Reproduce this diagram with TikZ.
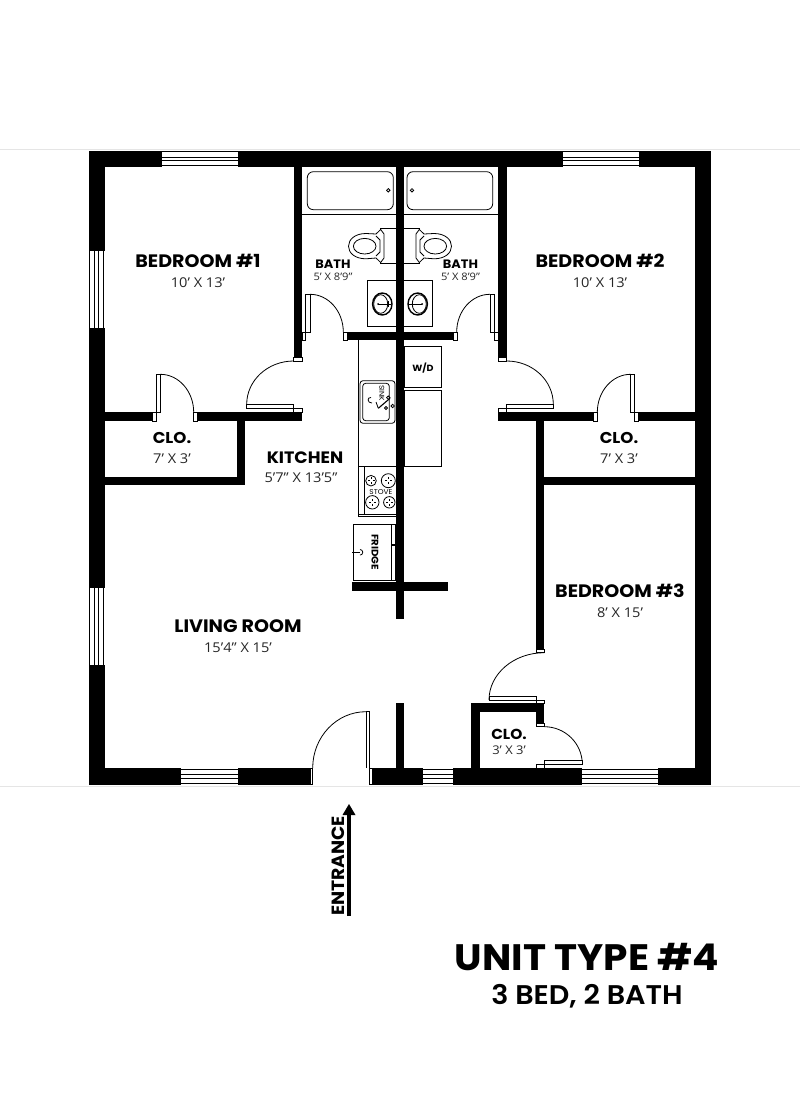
\documentclass[tikz,border=0pt]{standalone}
\usepackage{fontspec}
\setmainfont{Open Sans}[FakeStretch=1.08]
\newfontfamily\headfont{Poppins}[FakeStretch=1.06,BoldFont={Poppins Bold},BoldFeatures={FakeStretch=1.06}]
\newfontfamily\subfont{Poppins SemiBold}[FakeStretch=1.06]
\tikzset{
  wall/.style={fill=black,draw=none},
  thinline/.style={draw=black,line width=0.7pt,fill=white},
  fixture/.style={draw=black,line width=0.8pt},
  swing/.style={draw=black,line width=0.8pt},
  winline/.style={draw=black,line width=0.85pt},
  room/.style={font=\headfont\bfseries\fontsize{18}{20}\selectfont,inner sep=0pt},
  smallroom/.style={font=\headfont\bfseries\fontsize{15.7}{17}\selectfont,inner sep=0pt},
  bathroom/.style={font=\headfont\bfseries\fontsize{12.2}{14}\selectfont,inner sep=0pt},
  dim/.style={font=\fontsize{13.5}{14}\selectfont,inner sep=0pt,text=black!85},
  smalldim/.style={font=\fontsize{10.3}{12}\selectfont,inner sep=0pt,text=black!85},
  tiny/.style={font=\headfont\bfseries\fontsize{8}{9}\selectfont,inner sep=0pt},
}
\newcommand{\wl}[4]{\fill[wall] (#1,#2) rectangle (#3,#4);}
\newcommand{\hwin}[3]{\foreach \yy in {0.7,6,9.7,14.7}{\draw[winline] (#1,#3+\yy) -- (#2,#3+\yy);}}
\newcommand{\vwin}[3]{\foreach \xx in {0.7,5.7,9.3,14.7}{\draw[winline] (#3+\xx,#1) -- (#3+\xx,#2);}}
\begin{document}
\begin{tikzpicture}[x=1pt,y=-1pt]
\useasboundingbox (0,0) rectangle (800,1100);
\draw[black!10,line width=0.6pt] (0,149.5) -- (800,149.5);
\draw[black!10,line width=0.6pt] (0,786) -- (800,786);
% windows
\hwin{162.3}{237.5}{151}
\hwin{563}{638.5}{151}
\vwin{251}{327.5}{89}
\vwin{588}{664.5}{89}
\hwin{181}{237.5}{768.5}
\hwin{423}{453}{768.5}
\hwin{582}{658}{768.5}
% fixtures under walls
\draw[fixture] (302,214) -- (498,214);
\draw[fixture,rounded corners=6pt] (307.3,171.7) rectangle (393.3,209.7);
\draw[fixture,rounded corners=6pt] (407,171.7) rectangle (492.7,209.7);
\draw[fixture] (388.3,190.3) circle (1.7);
\draw[fixture] (412,190.3) circle (1.7);
\draw[fixture] (367.7,280.7) rectangle (432.7,326.3);
% toilets
\draw[fixture] (380.7,228.3) rectangle (419.3,263.3);
\foreach \m/\c in {1/0,-1/800}{
 \begin{scope}[shift={(\c,0)},xscale=\m]
  \draw[fixture,fill=white] (380.7,229.5) -- (384,234) -- (384,258) -- (380.7,262.5) -- (376,258 ) -- (366,258.8) .. controls (355,258.8) and (348.5,253) .. (348.5,246.2) .. controls (348.5,239.5) and (355,233.5) .. (366,233.5) -- (376,234) -- cycle;
  \draw[fixture] (364.7,246.2) ellipse (11.3 and 7.8);
  \draw[fixture] (376,236) -- (380,240) -- (380,252) -- (376,256);
  \draw[fixture,line width=1.4pt] (382.3,304) ellipse (9.7 and 11);
  \draw[fixture] (380.7,304) ellipse (7 and 9.3);
  \draw[fixture] (378,304) -- (391,304) (388,301) -- (388,307);
  \fill (378,304) circle (1);
 \end{scope}
}
% kitchen
\draw[fixture] (358.3,340) -- (358.3,516.7) -- (396,516.7);
\draw[fixture] (358.3,514.7) -- (396,514.7);
\draw[fixture] (358.3,466) -- (396,466);
\draw[fixture] (364.3,466) -- (364.3,514.7);
\draw[fixture,rounded corners=3pt] (360,380.7) rectangle (395,423.3);
\draw[fixture,rounded corners=3pt] (362.7,383.3) rectangle (389.3,420.7);
\draw[fixture] (372,403) .. controls (367,403) and (367,397) .. (371,397.5);
\draw[fixture,line width=1.1pt] (378.3,408.3) -- (390,398.3);
\draw[fixture] (388.3,397.7) circle (1.7) (392.7,406) circle (1.7) (386,408) circle (1.5);
\draw[fixture] (378.3,408.3) -- (376,402);
\draw[fixture] (404.3,346) rectangle (441.7,387.3);
\draw[fixture] (404.3,390) rectangle (441.7,466);
\foreach \p/\r in {{371,480.7}/5.3,{388.3,480.7}/7,{372.3,502.3}/6.7,{389.3,502.3}/5.7}{
  \draw[fixture] (\p) circle (\r);
  \draw[fixture,line width=0.5pt] (\p) ++(-1.5,0) -- ++(-2,0) (\p) ++(1.5,0) -- ++(2,0) (\p) ++(0,-1.5) -- ++(0,-2) (\p) ++(0,1.5) -- ++(0,2);
}
\draw[fixture] (353.3,524.3) rectangle (391.7,580.7);
\draw[fixture] (391.7,524.3) rectangle (395.7,580.7);
\fill (392,544) rectangle (395.7,546);
\draw[fixture] (352,552.3) -- (360,552.3);
\draw[fixture] (360,549.5) arc (-90:90:2.8);
\node[tiny,rotate=-90,font=\headfont\bfseries\fontsize{9.6}{11}\selectfont] (fridgeT) at (375,552.3) {FRIDGE};
\node[tiny,rotate=-90,font=\headfont\fontsize{7}{8}\selectfont] (sinkT) at (381.7,393.3) {SINK};
\node[tiny,font=\headfont\fontsize{7}{8}\selectfont] (stoveT) at (381,492) {STOVE};
\node[tiny,font=\headfont\bfseries\fontsize{9}{10}\selectfont] (wdT) at (423,368) {W/D};
% door swings
\draw[swing] (366,711.7) arc (-90:-180:53.3 and 56.3);
\draw[thinline] (366,711.7) rectangle (369.3,768);
\fill[white] (310,768) rectangle (372,785);
\draw[thinline] (310,768) rectangle (312.7,784.5);
\draw[thinline] (369.3,768) rectangle (372,784.5);
\draw[swing] (544.3,726.7) arc (-90:0:38 and 37.6);
\draw[thinline] (544.3,760.7) rectangle (582.3,764.3);
\draw[thinline] (536.7,764.3) rectangle (544.3,768);
\draw[swing] (544.3,652.7) arc (-90:-180:55.3 and 47.3);
\draw[thinline] (489,696) rectangle (536.7,700);
\draw[thinline] (536.7,700) rectangle (544.3,703.3);
\draw[thinline] (536,649.3) rectangle (544.3,652.7);
\draw[thinline] (536,723.3) rectangle (544.3,726.7);
% bedroom 1 door & closet
\draw[swing] (160.3,374.3) arc (-90:0:33.4 and 38);
\draw[thinline] (156.3,374.3) rectangle (160.3,412.3);
\draw[thinline] (152.3,412.3) rectangle (156.3,421);
\draw[thinline] (193.7,412.3) rectangle (197.7,421);
\draw[swing] (293.7,361) arc (-90:-180:47 and 43.3);
\draw[thinline] (246.7,404.3) rectangle (293.7,408.3);
\draw[thinline] (293.7,408.3) rectangle (302,412.3);
\draw[thinline] (293.7,357.7) rectangle (302,361);
% bedroom 2 door & closet
\draw[swing] (630.7,374.3) arc (-90:-180:33.4 and 38);
\draw[thinline] (630.7,374.3) rectangle (634.7,412.3);
\draw[thinline] (593.3,412.3) rectangle (597.3,421);
\draw[thinline] (634.7,412.3) rectangle (638.7,421);
\draw[swing] (506.7,361) arc (-90:0:46.6 and 43.3);
\draw[thinline] (506.7,404.3) rectangle (553.3,408.3);
\draw[thinline] (498.3,408.3) rectangle (506.7,412.3);
\draw[thinline] (498.3,357.7) rectangle (506.7,361);
% bath doors
\draw[swing] (310,294.3) arc (-90:0:33.3 and 37.7);
\draw[thinline] (305.7,294.3) rectangle (310,332);
\draw[thinline] (302.3,332) rectangle (305.7,340);
\draw[thinline] (343.3,332) rectangle (347.3,340);
\draw[swing] (490,294.3) arc (-90:-180:33.3 and 37.7);
\draw[thinline] (490,294.3) rectangle (494.3,332);
\draw[thinline] (494.3,332) rectangle (498,340);
\draw[thinline] (453.3,332) rectangle (457.3,340);
% walls
\wl{89}{151}{162.3}{167}
\wl{237.5}{151}{563}{167}
\wl{638.5}{151}{711}{167}
\wl{89}{151}{105.3}{251}
\wl{89}{327.5}{105.3}{588}
\wl{89}{664.5}{105.3}{784.5}
\wl{695}{151}{711}{784.5}
\wl{89}{768}{181}{784.5}
\wl{237.5}{768}{310}{784.5}
\wl{372}{768}{423.3}{784.5}
\wl{452.7}{768}{582.3}{784.5}
\wl{658}{768}{711}{784.5}
\wl{293.5}{167}{302.2}{357.7}
\wl{498.3}{167}{506.7}{357.7}
\wl{395.7}{167}{404.3}{619}
\wl{347.3}{332}{453.3}{340}
\wl{352.3}{582.3}{447.7}{590.7}
\wl{395.7}{703.3}{404.3}{768}
\wl{89}{412.3}{152.3}{421}
\wl{197.7}{412.3}{302}{421}
\wl{237}{421}{245.3}{485.3}
\wl{105}{476.7}{245.3}{485.3}
\wl{498.3}{412.3}{593.3}{421}
\wl{638.7}{412.3}{695}{421}
\wl{536}{421}{544.3}{649.3}
\wl{544}{476.7}{695}{485.3}
\wl{471.3}{703.3}{544.3}{712}
\wl{471.3}{703.3}{480}{768}
\wl{536}{703.3}{544.3}{723.3}
% labels
\node[room] (b1) at (198,261) {BEDROOM \#1};
\node[dim] (b1d) at (198,283) {10’ X 13’};
\node[room] (b2) at (600,261) {BEDROOM \#2};
\node[dim] (b2d) at (600,283) {10’ X 13’};
\node[room] (b3) at (620,591) {BEDROOM \#3};
\node[dim] (b3d) at (620,613) {8’ X 15’};
\node[room] (lr) at (238,626) {LIVING ROOM};
\node[dim] (lrd) at (238,648) {15’4” X 15’};
\node[room,font=\headfont\bfseries\fontsize{16.5}{18}\selectfont] (k) at (305,458) {KITCHEN};
\node[dim] (kd) at (301,478) {5’7” X 13’5”};
\node[smallroom] (c1) at (172,438) {CLO.};
\node[dim] (c1d) at (172,459) {7’ X 3’};
\node[smallroom] (c2) at (619,438) {CLO.};
\node[dim] (c2d) at (619,459) {7’ X 3’};
\node[smallroom,font=\headfont\bfseries\fontsize{14.5}{17}\selectfont] (c3) at (509,734) {CLO.};
\node[dim,font=\fontsize{12}{14}\selectfont] (c3d) at (509,750) {3’ X 3’};
\node[bathroom] (ba1) at (333,264) {BATH};
\node[smalldim] (ba1d) at (333,277) {5’ X 8’9”};
\node[bathroom] (ba2) at (460.5,264) {BATH};
\node[smalldim] (ba2d) at (460.5,277) {5’ X 8’9”};
\node[room,rotate=90,font=\headfont\bfseries\fontsize{17.7}{18}\selectfont] (ent) at (338,866) {ENTRANCE};
\coordinate (arrA) at (349,916);
\coordinate (arrB) at (349,815);
\draw[line width=3.5pt] (arrA) -- (arrB);
\fill (349,804) -- (355.5,815) -- (342.5,815) -- cycle;
\node[font=\headfont\bfseries\fontsize{36.8}{40}\selectfont,inner sep=0pt] (title) at (587,957) {UNIT TYPE \#4};
\node[font=\subfont\fontsize{27}{30}\selectfont,inner sep=0pt] (sub) at (587,996) {3 BED, 2 BATH};
\end{tikzpicture}
\end{document}
